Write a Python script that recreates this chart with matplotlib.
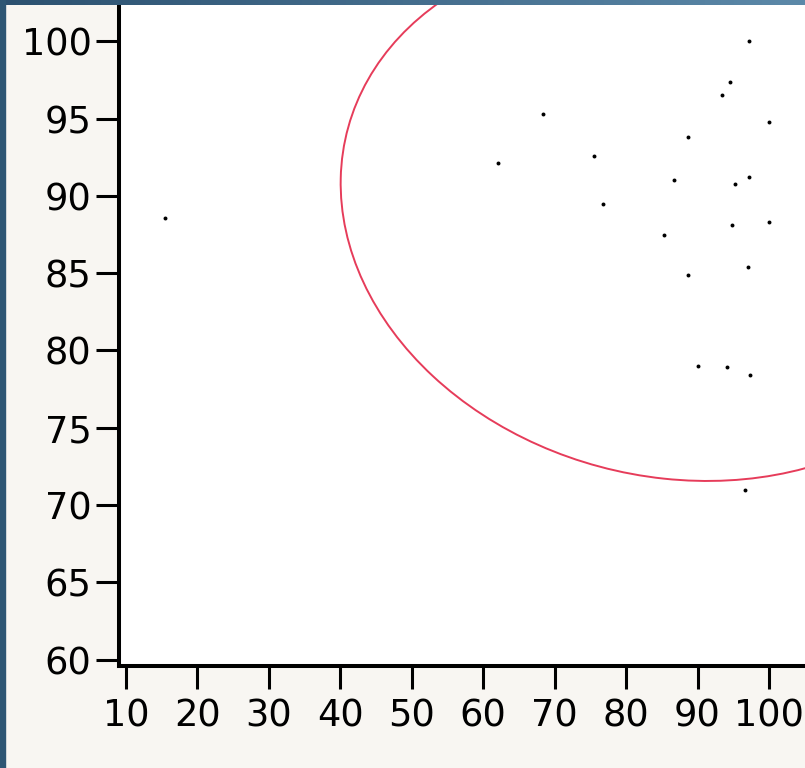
import numpy as np
import matplotlib
matplotlib.use("Agg")
import matplotlib.pyplot as plt
from matplotlib.patches import Ellipse, Rectangle
from matplotlib.colors import LinearSegmentedColormap

# points
x_vals = np.array([15.5, 62.1, 68.3, 75.5, 76.8, 85.3, 86.7, 88.6, 88.6, 90.0,
                   93.4, 94.6, 94.8, 95.3, 94.1, 97.2, 97.2, 97.1, 97.4, 96.7,
                   100.0, 100.0])
y_vals = np.array([88.6, 92.15, 95.3, 92.6, 89.5, 87.5, 91.0, 93.8, 84.9, 79.0,
                   96.5, 97.35, 88.1, 90.8, 78.9, 100.0, 91.2, 85.4, 78.4, 71.0,
                   94.8, 88.3])
x_ticks = [10, 20, 30, 40, 50, 60, 70, 80, 90, 100]
y_ticks = [60, 65, 70, 75, 80, 85, 90, 95, 100]
x_range = (9.06, 105.04)
y_range = (59.57, 102.35)
ellipse_level = 0.95

W, H = 805, 768
fig = plt.figure(figsize=(W / 100, H / 100), dpi=100, facecolor="#f8f6f2")

left, bottom_px, top_px = 119.3, 666.3, 5
wfrac = (W - left) / W
ax = fig.add_axes([left / W, (H - bottom_px) / H, wfrac + 0.05,
                   (bottom_px - top_px) / H])
ax.set_facecolor("white")
# axes runs past the right edge of the figure, so stretch the limit to match
ax.set_xlim(x_range[0], x_range[0] + (x_range[1] - x_range[0]) * (wfrac + 0.05) / wfrac)
ax.set_ylim(*y_range)

# 95% density ellipse from mean / covariance of the points
mean = np.array([x_vals.mean(), y_vals.mean()])
cov = np.cov(x_vals, y_vals)
evals, evecs = np.linalg.eigh(cov)
scale = np.sqrt(-2 * np.log(1 - ellipse_level))
angle = np.degrees(np.arctan2(evecs[1, 1], evecs[0, 1]))
ell = Ellipse(mean, 2 * scale * np.sqrt(evals[1]), 2 * scale * np.sqrt(evals[0]),
              angle=angle, fill=False, edgecolor="#e63c5a", linewidth=1.4)
ax.add_patch(ell)

ax.scatter(x_vals, y_vals, s=8, color="black", linewidths=0, zorder=3)

for side in ["top", "right"]:
    ax.spines[side].set_visible(False)
for side in ["left", "bottom"]:
    ax.spines[side].set_linewidth(2.9)
ax.set_xticks(x_ticks)
ax.set_yticks(y_ticks)
ax.tick_params(axis="both", length=16.5, width=2.2, labelsize=26.5, colors="black")
ax.tick_params(axis="x", pad=6)
ax.tick_params(axis="y", pad=3.5)

# window frame: left strip and top gradient strip
fig.patches.append(Rectangle((0, 0), 5 / W, 1, transform=fig.transFigure,
                             color="#2e5674", zorder=10))
bar = fig.add_axes([0, 1 - 5 / H, 1, 5 / H])
grad = np.linspace(0, 1, 256).reshape(1, -1)
cmap = LinearSegmentedColormap.from_list("bar", ["#2c5170", "#5c89a9"])
bar.imshow(grad, aspect="auto", cmap=cmap)
bar.set_axis_off()

fig.savefig("out.png", dpi=100, facecolor=fig.get_facecolor())
